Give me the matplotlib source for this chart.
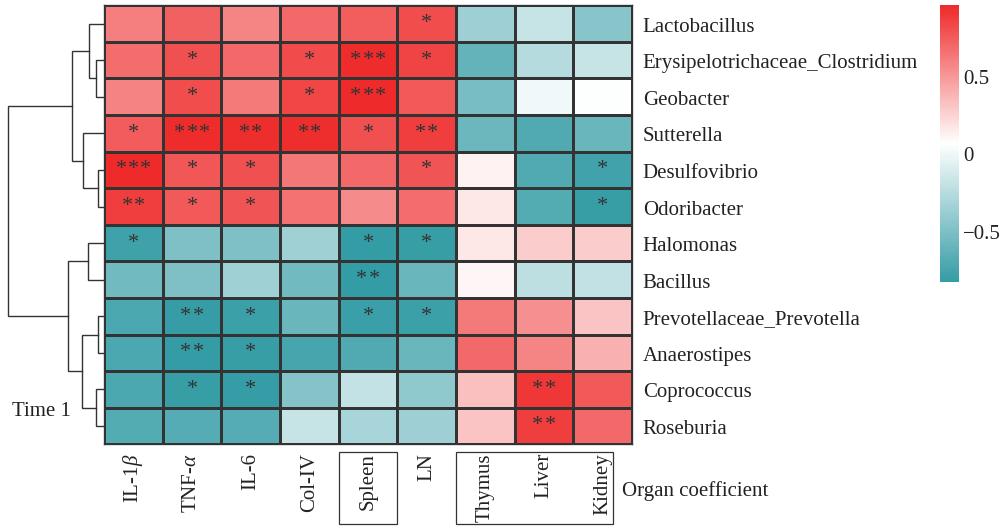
import numpy as np
import matplotlib
matplotlib.use("Agg")
import matplotlib.pyplot as plt
from matplotlib.colors import LinearSegmentedColormap, Normalize
from matplotlib.cm import ScalarMappable
from matplotlib.patches import Rectangle
from matplotlib import transforms

plt.rcParams['font.family'] = ['Liberation Serif', 'DejaVu Serif']
plt.rcParams['mathtext.fontset'] = 'custom'
plt.rcParams['mathtext.rm'] = 'Liberation Serif'
plt.rcParams['mathtext.it'] = 'Liberation Serif:italic'

# ---- data -------------------------------------------------------------
taxa = ["Lactobacillus", "Erysipelotrichaceae_Clostridium", "Geobacter",
        "Sutterella", "Desulfovibrio", "Odoribacter", "Halomonas", "Bacillus",
        "Prevotellaceae_Prevotella", "Anaerostipes", "Coprococcus", "Roseburia"]

markers = [r"IL-1$\beta$", r"TNF-$\alpha$", "IL-6", "Col-IV", "Spleen", "LN",
           "Thymus", "Liver", "Kidney"]

corr = np.array([
    [0.60, 0.73, 0.58, 0.69, 0.74, 0.81, -0.36, -0.18, -0.45],
    [0.68, 0.80, 0.69, 0.82, 0.95, 0.85, -0.61, -0.25, -0.18],
    [0.59, 0.81, 0.63, 0.84, 0.96, 0.76, -0.52, 0.01, 0.06],
    [0.75, 0.95, 0.94, 0.94, 0.80, 0.87, -0.57, -0.69, -0.59],
    [0.96, 0.77, 0.80, 0.64, 0.69, 0.78, 0.12, -0.69, -0.76],
    [0.87, 0.76, 0.78, 0.66, 0.55, 0.68, 0.17, -0.68, -0.80],
    [-0.77, -0.49, -0.49, -0.35, -0.82, -0.80, 0.17, 0.28, 0.28],
    [-0.55, -0.49, -0.35, -0.55, -0.82, -0.58, 0.11, -0.22, -0.20],
    [-0.71, -0.81, -0.78, -0.58, -0.79, -0.78, 0.62, 0.53, 0.32],
    [-0.71, -0.82, -0.80, -0.74, -0.69, -0.59, 0.69, 0.58, 0.40],
    [-0.71, -0.80, -0.81, -0.47, -0.19, -0.42, 0.33, 0.90, 0.76],
    [-0.68, -0.67, -0.67, -0.18, -0.31, -0.36, 0.32, 0.87, 0.69],
])

stars = [
    ["", "", "", "", "", "*", "", "", ""],
    ["", "*", "", "*", "***", "*", "", "", ""],
    ["", "*", "", "*", "***", "", "", "", ""],
    ["*", "***", "**", "**", "*", "**", "", "", ""],
    ["***", "*", "*", "", "", "*", "", "", "*"],
    ["**", "*", "*", "", "", "", "", "", "*"],
    ["*", "", "", "", "*", "*", "", "", ""],
    ["", "", "", "", "**", "", "", "", ""],
    ["", "**", "*", "", "*", "*", "", "", ""],
    ["", "**", "*", "", "", "", "", "", ""],
    ["", "*", "*", "", "", "", "", "**", ""],
    ["", "", "", "", "", "", "", "**", ""],
]

# row clustering: (child_a, child_b, merge height); new nodes numbered from 12
row_linkage = [
    (1, 2, 0.87), (0, 12, 1.54), (4, 5, 0.60), (3, 14, 2.23), (13, 15, 3.31),
    (6, 7, 1.70), (8, 9, 0.60), (10, 11, 0.87), (18, 19, 2.33), (17, 20, 3.73),
    (16, 21, 10.0),
]

ticks_cb = [0.5, 0, -0.5]

# ---- figure -----------------------------------------------------------
W, H = 1006, 527
fig = plt.figure(figsize=(W / 100, H / 100), dpi=100)
ink = "#333333"
txt = "#222222"
fs = 15.0

n, m = corr.shape
cmap = LinearSegmentedColormap.from_list("tealred", ["#349CA5", "#FFFFFF", "#EE2A2A"])
norm = Normalize(vmin=corr.min(), vmax=corr.max())

x0, x1, y0, y1 = 104, 632, 5.3, 444.3
axh = fig.add_axes([x0 / W, 1 - y1 / H, (x1 - x0) / W, (y1 - y0) / H])
axh.pcolormesh(corr, cmap=cmap, norm=norm, edgecolors=ink, linewidth=0.95)
axh.set_xlim(0, m)
axh.set_ylim(n, 0)
axh.set_xticks([])
axh.set_yticks([])
for sp in axh.spines.values():
    sp.set_color(ink)
    sp.set_linewidth(0.95)

# significance marks, one asterisk at a time so they sit apart
step = 8.9  # points between asterisks
for i in range(n):
    for j in range(m):
        k = len(stars[i][j])
        for s in range(k):
            dx = (s - (k - 1) / 2) * step
            axh.annotate("*", xy=(j + 0.5, i + 0.5), xytext=(dx, -3.2),
                         textcoords='offset points', ha='center', va='baseline',
                         fontsize=16, color=ink)

row_tr = transforms.offset_copy(axh.transData, fig=fig, x=7.7, y=-5.8, units='points')
for i, name in enumerate(taxa):
    axh.text(m, i + 0.5, name, transform=row_tr, ha='left', va='baseline',
             fontsize=fs, color=txt)

col_tr = transforms.offset_copy(axh.transData, fig=fig, x=0, y=-6.3, units='points')
for j, name in enumerate(markers):
    axh.text(j + 0.5, n, name, transform=col_tr, rotation=90, ha='center',
             va='top', fontsize=fs, color=txt)

# boxes grouping the organ-related columns
box_tr = transforms.blended_transform_factory(axh.transData, axh.transAxes)
for xa, xb in [(4.0, 5.0), (6.0, 8.68)]:
    axh.add_patch(Rectangle((xa, -0.0169), xb - xa, -0.1647, transform=box_tr,
                            fill=False, edgecolor=ink, linewidth=0.9, clip_on=False))

fig.text(621.5 / W, 1 - 496 / H, "Organ coefficient", fontsize=fs,
         color=txt, ha='left', va='baseline')
fig.text(11.5 / W, 1 - 416 / H, "Time 1", fontsize=fs, color=txt,
         ha='left', va='baseline')

# row dendrogram
axd = fig.add_axes([0, 1 - y1 / H, x0 / W, (y1 - y0) / H])
pos = {i: i + 0.5 for i in range(n)}
hgt = {i: 0.0 for i in range(n)}
for k, (a, b, h) in enumerate(row_linkage):
    axd.plot([hgt[a], h, h, hgt[b]], [pos[a], pos[a], pos[b], pos[b]],
             color=ink, linewidth=1.0, solid_joinstyle='miter', clip_on=False)
    pos[n + k] = (pos[a] + pos[b]) / 2
    hgt[n + k] = h
axd.set_xlim(row_linkage[-1][2] * 1.087, 0)
axd.set_ylim(n, 0)
axd.axis('off')

# colour legend
cax = fig.add_axes([940 / W, 1 - 282 / H, 19 / W, 277 / H])
cb = fig.colorbar(ScalarMappable(norm=norm, cmap=cmap), cax=cax)
cb.outline.set_visible(False)
cb.set_ticks(ticks_cb)
cb.set_ticklabels(["0.5", "0", "\u22120.5"])
cax.tick_params(length=0, labelsize=fs, pad=3, labelcolor=txt)

fig.savefig("out.png", dpi=100)
